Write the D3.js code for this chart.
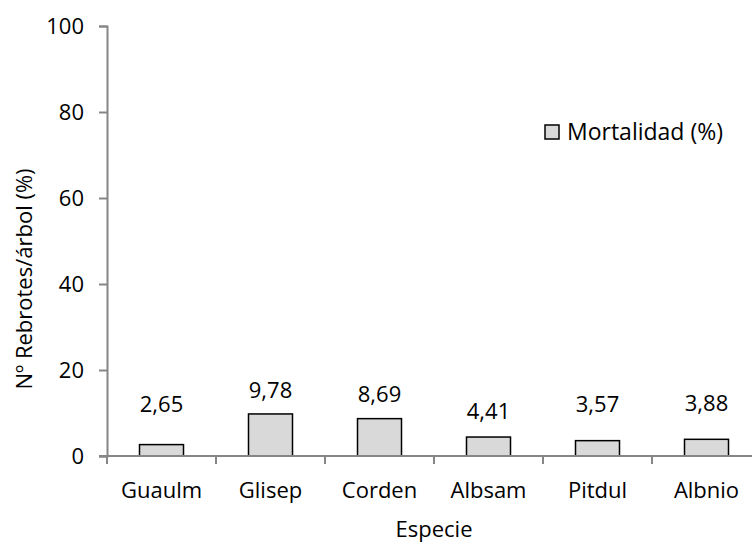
<!DOCTYPE html>
<html>
<head>
    <meta charset="utf-8">
    <title>Mortalidad</title>
    <style>
        body { margin: 0; background: #fff; }
        text { font-family: "Open Sans", sans-serif; fill: #000; }
        .axis path, .axis line { stroke: #868686; stroke-width: 2px; }
    </style>
    <script src="https://d3js.org/d3.v7.min.js"></script>
</head>
<body>
    <script>
        var especies = ["Guaulm", "Glisep", "Corden", "Albsam", "Pitdul", "Albnio"];
        var mortalidad = [2.65, 9.78, 8.69, 4.41, 3.57, 3.88];
        var etiquetas = ["2,65", "9,78", "8,69", "4,41", "3,57", "3,88"];
        // height (in axis units) where each data label sits
        var alturaEtiqueta = [10.2, 13.4, 12.5, 8.5, 10.2, 10.4];
        var yTicks = [0, 20, 40, 60, 80, 100];

        var w = 752, h = 543;
        var plotLeft = 107, plotTop = 26, plotBottom = 456;

        var svg = d3.select("body").append("svg")
            .attr("width", w)
            .attr("height", h);

        var x = d3.scaleBand()
            .domain(especies)
            .range([plotLeft, plotLeft + 6 * 109])
            .padding(0);

        var y = d3.scaleLinear()
            .domain([0, 100])
            .range([plotBottom, plotTop]);

        // y axis
        var yAxis = svg.append("g")
            .attr("class", "axis")
            .attr("transform", "translate(" + plotLeft + ",0)")
            .call(d3.axisLeft(y).tickValues(yTicks).tickSize(8).tickPadding(15).tickSizeOuter(8));
        yAxis.selectAll("text").style("font-size", "22px").attr("dy", "0.35em");

        // bars
        var bw = 44;
        svg.selectAll("rect.bar")
            .data(mortalidad)
            .enter()
            .append("rect")
            .attr("class", "bar")
            .attr("x", function (d, i) { return x(especies[i]) + x.bandwidth() / 2 - bw / 2; })
            .attr("y", function (d) { return y(d); })
            .attr("width", bw)
            .attr("height", function (d) { return y(0) - y(d); })
            .style("fill", "#d9d9d9")
            .style("stroke", "#000")
            .style("stroke-width", "1.5px");

        // x axis line and ticks at category boundaries
        var xg = svg.append("g").attr("class", "axis");
        xg.append("line")
            .attr("x1", plotLeft - 8).attr("x2", w)
            .attr("y1", y(0)).attr("y2", y(0));
        xg.selectAll("line.tick")
            .data(especies)
            .enter()
            .append("line")
            .attr("class", "tick")
            .attr("x1", function (d) { return x(d); })
            .attr("x2", function (d) { return x(d); })
            .attr("y1", y(0))
            .attr("y2", y(0) + 8);

        svg.selectAll("text.cat")
            .data(especies)
            .enter()
            .append("text")
            .attr("class", "cat")
            .attr("x", function (d) { return x(d) + x.bandwidth() / 2; })
            .attr("y", 498)
            .attr("text-anchor", "middle")
            .style("font-size", "22px")
            .text(function (d) { return d; });

        // data labels
        svg.selectAll("text.lbl")
            .data(etiquetas)
            .enter()
            .append("text")
            .attr("class", "lbl")
            .attr("x", function (d, i) { return x(especies[i]) + x.bandwidth() / 2; })
            .attr("y", function (d, i) { return y(alturaEtiqueta[i]); })
            .attr("text-anchor", "middle")
            .style("font-size", "22px")
            .text(function (d) { return d; });

        // axis titles
        svg.append("text")
            .attr("x", 434)
            .attr("y", 537)
            .attr("text-anchor", "middle")
            .style("font-size", "22px")
            .text("Especie");

        svg.append("text")
            .attr("transform", "translate(32,279) rotate(-90)")
            .attr("text-anchor", "middle")
            .style("font-size", "22px")
            .text("Nº Rebrotes/árbol (%)");

        // legend
        var lg = svg.append("g").attr("transform", "translate(545,125)");
        lg.append("rect")
            .attr("width", 14).attr("height", 14)
            .style("fill", "#d9d9d9")
            .style("stroke", "#000")
            .style("stroke-width", "1.5px");
        lg.append("text")
            .attr("x", 22)
            .attr("y", 7)
            .attr("dy", "0.35em")
            .style("font-size", "23px")
            .text("Mortalidad (%)");
    </script>
</body>
</html>
